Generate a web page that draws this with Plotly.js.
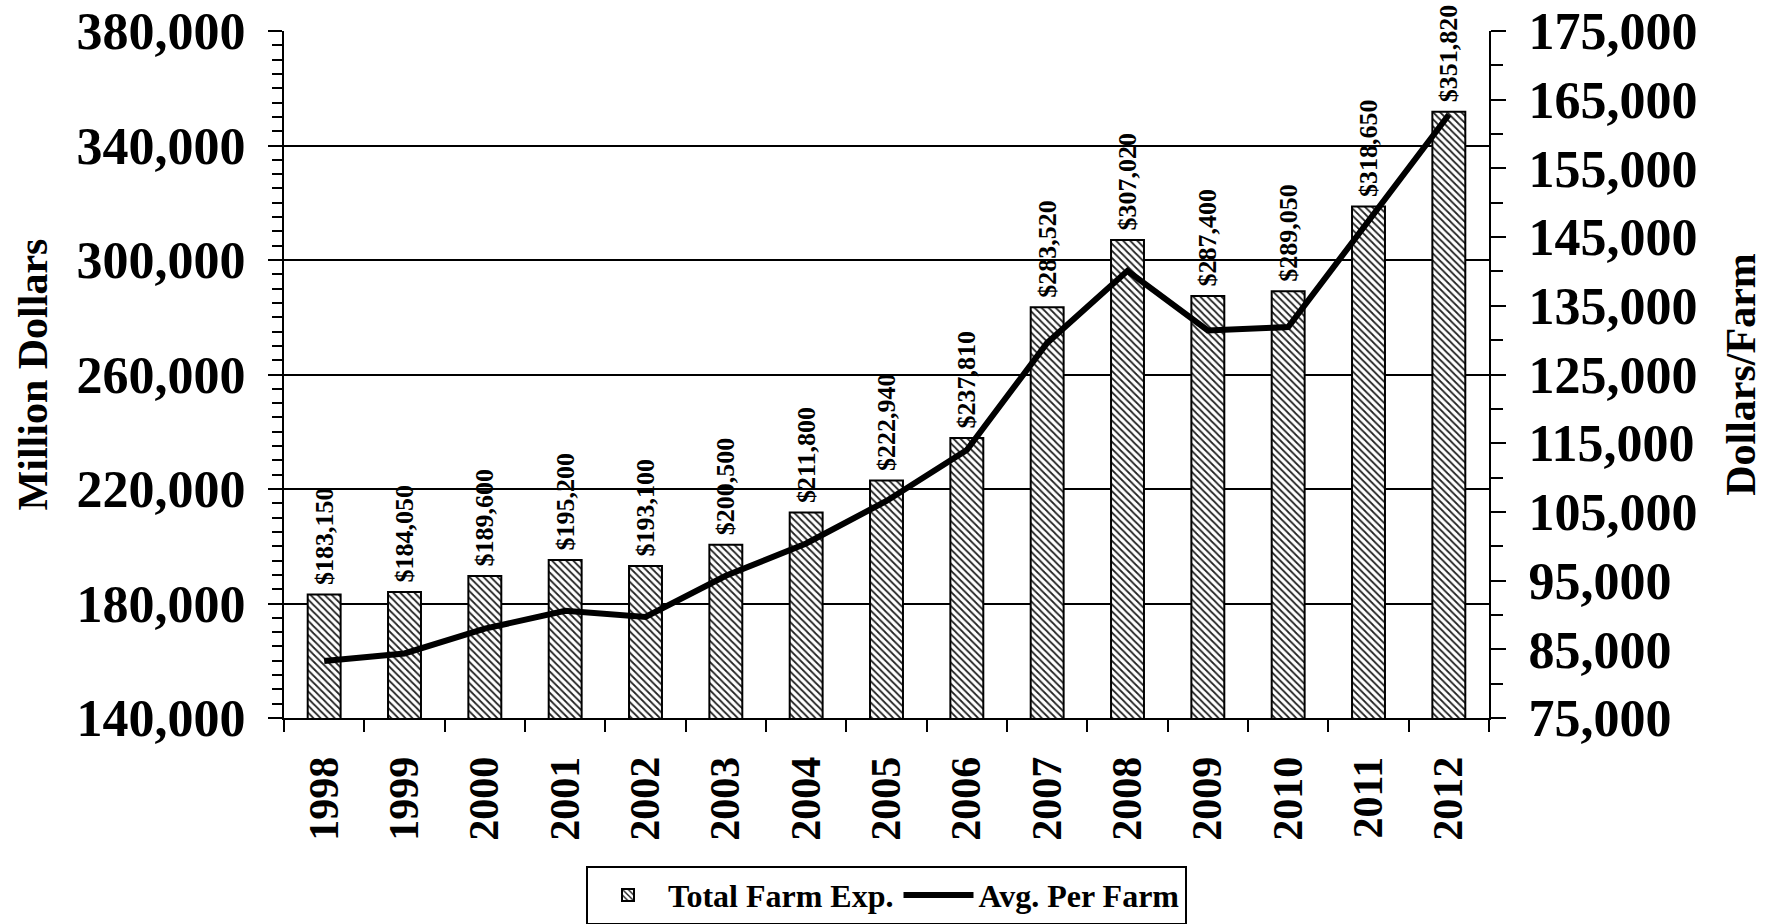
<!DOCTYPE html>
<html>
<head>
<meta charset="utf-8">
<script src="https://cdn.plot.ly/plotly-3.0.1.min.js"></script>
<style>
  html, body { margin: 0; padding: 0; background: #fff; }
  #chart { width: 1769px; height: 924px; }
</style>
</head>
<body>
<div id="chart"></div>
<script>
const years = ['1998','1999','2000','2001','2002','2003','2004','2005','2006','2007','2008','2009','2010','2011','2012'];
const totalFarmExp = [183150,184050,189600,195200,193100,200500,211800,222940,237810,283520,307020,287400,289050,318650,351820];
const avgPerFarm = [83300,84400,88000,90600,89700,95700,100400,106600,114000,129600,140100,131400,131900,147200,162800];

const FONT = 'Liberation Serif, Times New Roman, serif';
const labelFont = { family: FONT, size: 26, color: 'black', weight: 700 };

const traces = [
  {
    type: 'bar',
    name: 'Total Farm Exp.',
    x: years,
    y: totalFarmExp,
    yaxis: 'y',
    width: 0.41,
    marker: {
      color: 'white',
      line: { color: 'black', width: 2 },
      pattern: { shape: '\\', bgcolor: 'white', fgcolor: '#222', size: 5, solidity: 0.35 }
    },
    texttemplate: '\u00a0$%{y:,}',
    textposition: 'outside',
    textangle: -90,
    constraintext: 'none',
    cliponaxis: false,
    textfont: labelFont,
    outsidetextfont: labelFont,
    hoverinfo: 'skip'
  },
  {
    type: 'scatter',
    mode: 'lines',
    name: 'Avg. Per Farm',
    x: years,
    y: avgPerFarm,
    yaxis: 'y2',
    line: { color: 'black', width: 6 },
    hoverinfo: 'skip'
  }
];

const layout = {
  width: 1769,
  height: 924,
  paper_bgcolor: 'white',
  plot_bgcolor: 'white',
  margin: { l: 284, r: 280, t: 31, b: 206, autoexpand: false },
  font: { family: FONT, color: 'black', weight: 'bold' },
  showlegend: true,
  legend: {
    orientation: 'h',
    x: 0.5, xanchor: 'center',
    y: -0.215, yanchor: 'top',
    bordercolor: 'black', borderwidth: 2,
    font: { family: FONT, size: 32, color: 'black', weight: 'bold' },
    itemwidth: 70,
    traceorder: 'normal'
  },
  xaxis: {
    type: 'category',
    tickson: 'boundaries',
    ticks: 'outside',
    ticklen: 12,
    tickwidth: 2,
    tickcolor: 'black',
    tickangle: -90,
    ticklabelstandoff: 20,
    tickfont: { family: FONT, size: 42, color: 'black', weight: 'bold' },
    showline: true,
    linecolor: 'black',
    linewidth: 2,
    showgrid: false,
    zeroline: false,
    automargin: false
  },
  yaxis: {
    range: [140000, 380000],
    dtick: 40000,
    tick0: 140000,
    tickformat: ',',
    ticks: 'outside',
    ticklen: 14,
    tickwidth: 2,
    tickcolor: 'black',
    ticklabelstandoff: 12,
    minor: { dtick: 5000, ticks: 'outside', ticklen: 10, tickwidth: 2, tickcolor: 'black', showgrid: false },
    tickfont: { family: FONT, size: 52, color: 'black', weight: 'bold' },
    showline: true,
    linecolor: 'black',
    linewidth: 2,
    showgrid: true,
    gridcolor: 'black',
    gridwidth: 2,
    zeroline: false,
    automargin: false,
    title: { text: 'Million Dollars', font: { family: FONT, size: 42, color: 'black', weight: 'bold' }, standoff: 16 }
  },
  yaxis2: {
    overlaying: 'y',
    side: 'right',
    range: [75000, 175000],
    dtick: 10000,
    tick0: 75000,
    tickformat: ',',
    ticks: 'outside',
    ticklen: 15,
    tickwidth: 2,
    tickcolor: 'black',
    ticklabelstandoff: 12,
    minor: { dtick: 5000, ticks: 'outside', ticklen: 12, tickwidth: 2, tickcolor: 'black', showgrid: false },
    tickfont: { family: FONT, size: 52, color: 'black', weight: 'bold' },
    showline: true,
    linecolor: 'black',
    linewidth: 2,
    showgrid: false,
    zeroline: false,
    automargin: false,
    title: { text: 'Dollars/Farm', font: { family: FONT, size: 42, color: 'black', weight: 'bold' }, standoff: 29 }
  }
};

Plotly.newPlot('chart', traces, layout, { staticPlot: true, displayModeBar: false });
</script>
</body>
</html>
